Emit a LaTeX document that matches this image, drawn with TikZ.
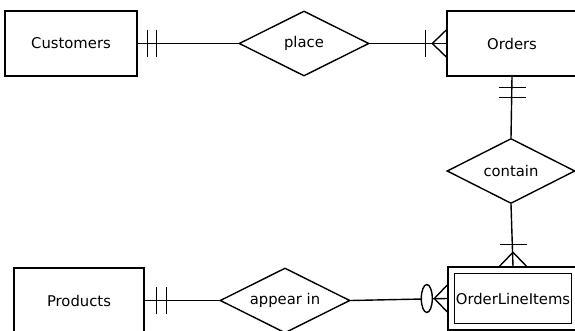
\documentclass[tikz,border=0pt]{standalone}
\usepackage{fontspec}
\setmainfont{DejaVu Sans}
\usetikzlibrary{shapes.geometric,calc}
\begin{document}
\begin{tikzpicture}[x=1pt,y=-1pt,
  ent/.style={draw,line width=1.4pt,minimum width=130pt,minimum height=65pt,inner sep=0pt,font=\fontsize{14.8}{17}\selectfont},
  rel/.style={draw,diamond,line width=1.4pt,minimum width=130pt,minimum height=65pt,inner sep=0pt,aspect=2,font=\fontsize{14.8}{17}\selectfont},
  conn/.style={line width=1.4pt},
  optcircle/.style={draw,ellipse,line width=1.4pt,fill=white,minimum width=11pt,minimum height=28pt,inner sep=0pt}
]
\useasboundingbox (0,0) rectangle (575,331);
\clip (0,0) rectangle (575,331);
% entities
\node[ent,minimum width=132pt] (cust) at (71,43.5) {Customers};
\node[ent] (orders) at (512,43.5) {Orders};
\node[ent] (products) at (79,300.5) {Products};
\node[ent,minimum height=63pt] (oli) at (513,298.5) {};
\draw[line width=1.4pt] ($(oli.north west)+(7,7)$) rectangle ($(oli.south east)+(-7,-7)$);
\node[font=\fontsize{14.8}{17}\selectfont,inner sep=0pt] (olitext) at (oli.center) {OrderLineItems};
% relationships
\node[rel] (place) at (304,43.5) {place};
\node[rel,minimum width=128pt] (contain) at (511,171) {contain};
\node[rel] (appear) at (285,300.5) {appear in};
% Customers -- place
\draw[conn] (cust.east) -- (place.west);
\draw[conn] ($(cust.east)+(10,-13.5)$) -- ++(0,27);
\draw[conn] ($(cust.east)+(19,-13.5)$) -- ++(0,27);
% place -- Orders
\draw[conn] (place.east) -- (orders.west);
\draw[conn] ($(orders.west)+(-21,-13.5)$) -- ++(0,27);
\draw[conn] ($(orders.west)+(0,-13.5)$) -- ($(orders.west)+(-14,0)$) -- ($(orders.west)+(0,13.5)$);
% Orders -- contain
\draw[conn] (orders.south) -- (contain.north);
\draw[conn] ($(orders.south)+(-13.5,11)$) -- ++(27,0);
\draw[conn] ($(orders.south)+(-13.5,21)$) -- ++(27,0);
% contain -- OrderLineItems
\draw[conn] (contain.south) -- (oli.north);
\draw[conn] ($(oli.north)+(-13.5,-22)$) -- ++(27,0);
\draw[conn] ($(oli.north)+(-13.5,0)$) -- ($(oli.north)+(0,-14)$) -- ($(oli.north)+(13.5,0)$);
% Products -- appear in
\draw[conn] (products.east) -- (appear.west);
\draw[conn] ($(products.east)+(12,-13.5)$) -- ++(0,27);
\draw[conn] ($(products.east)+(22,-13.5)$) -- ++(0,27);
% appear in -- OrderLineItems
\draw[conn] (appear.east) -- (oli.west);
\node[optcircle] (opt) at ($(oli.west)+(-20.5,0)$) {};
\draw[conn] ($(oli.west)+(0,-13.5)$) -- ($(oli.west)+(-13,0)$) -- ($(oli.west)+(0,13.5)$);
\end{tikzpicture}
\end{document}
